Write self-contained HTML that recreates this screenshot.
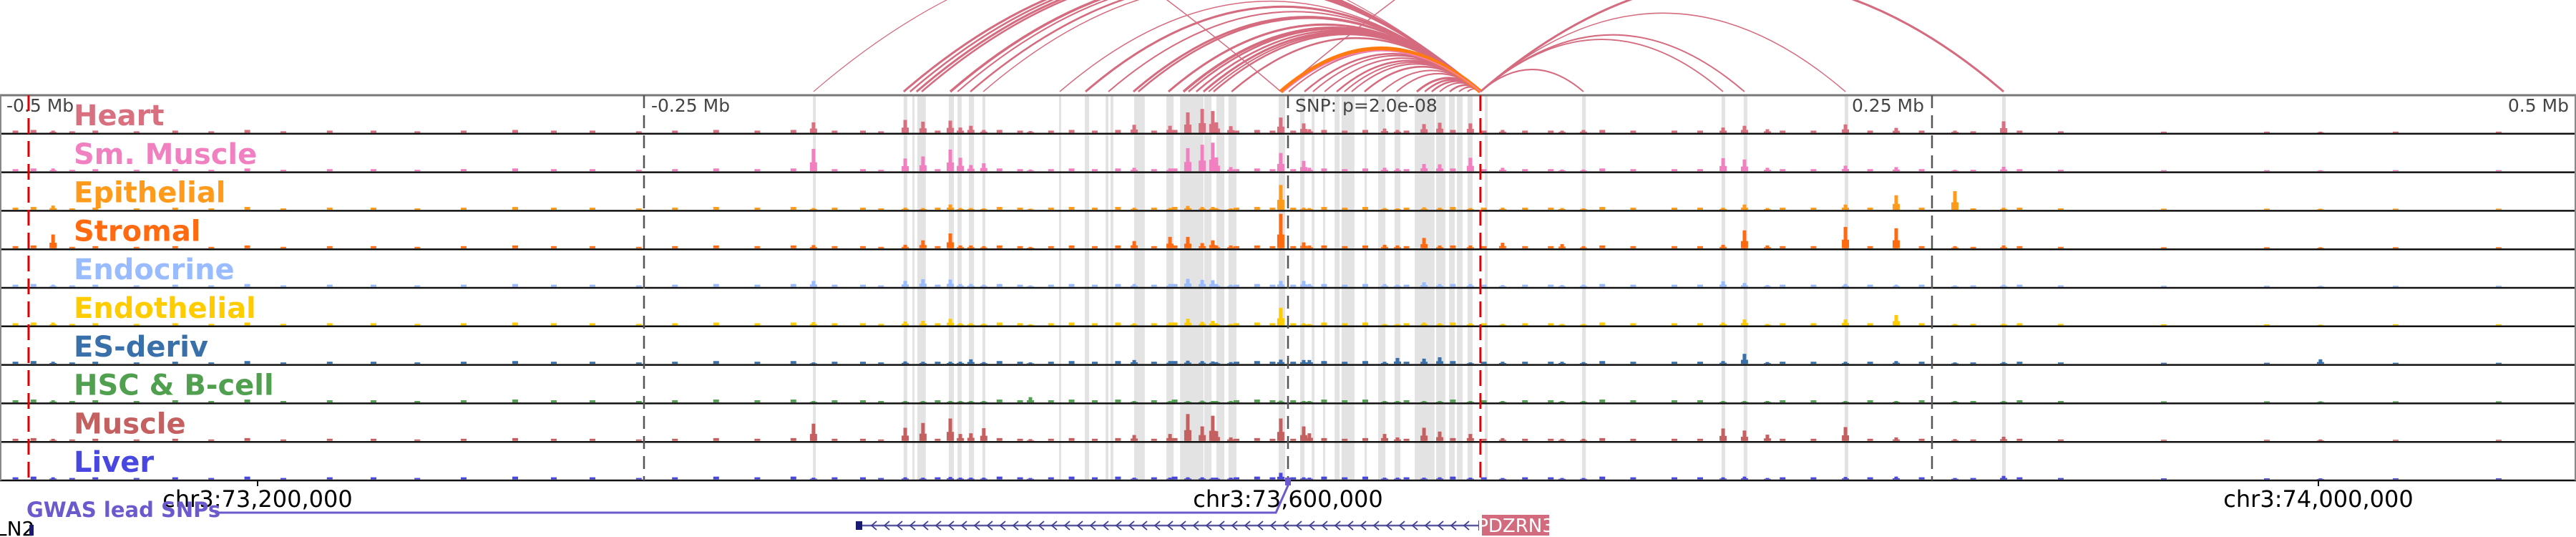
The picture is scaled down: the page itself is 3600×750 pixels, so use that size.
<!DOCTYPE html>
<html><head><meta charset="utf-8"><style>
html,body{margin:0;padding:0;background:#fff;}
svg{display:block;font-family:"DejaVu Sans","Liberation Sans",sans-serif;}
</style></head><body>
<svg id="chart" xmlns="http://www.w3.org/2000/svg" width="3600" height="750" viewBox="0 0 3600 750">
<defs><clipPath id="arcclip"><rect x="0" y="0" width="3600" height="131"/></clipPath></defs>
<g id="bands"></g>
<g id="arcs" clip-path="url(#arcclip)"></g>
<g id="tracks"></g>
<g id="overlay"></g>
<g id="bottom"></g>
</svg>
<script>
// ---- data (genomic offsets in kb relative to SNP) ----
const bandStart = [-184.4,-149.2,-145.8,-143.9,-131.7,-128.3,-123.9,-118.6,-88.9,-78.9,-70.8,-68.9,-59.7,-58.3,-47.2,-41.9,-32.5,-30.8,-27.8,-23.1,-3.6,4.7,9.2,13.6,18.1,20.8,29.7,35,41.4,49.2,57.5,62.5,65.6,69.7,76.4,114.2,168.3,176.9,216.1,277.2];
const bandEnd   = [-183.3,-147.8,-145,-140.6,-129.7,-126.7,-121.9,-117.5,-88.1,-77.2,-69.7,-67.8,-58.1,-55.6,-44.4,-32.8,-30.8,-29.7,-24.7,-20,-1.1,6.4,10.3,14.4,20,25.8,30.6,37.8,43.6,56.9,61.1,64.7,67.8,71.7,77.5,115.6,169.7,178.3,217.5,278.6];

const peakPos = [-479.4,-184.2,-148.6,-141.7,-131.1,-127.2,-123.1,-118.1,-100,-59.7,-45.8,-38.9,-33.3,-29.2,-27.8,-22.2,-2.8,6.1,8.3,37.5,42.5,52.8,58.9,70.8,83.3,106.4,114.7,168.9,177.2,186.1,216.4,236.1,258.9,277.8,400.8];
const heart      = [6,30,37,32,35,15,20,8,5,23,20,59,69,63,30,19,44,27,10,12,8,25,29,27,8,6,8,15,20,10,24,14,6,33,3];
const smMuscle   = [8,65,37,43,63,39,18,23,5,10,8,67,77,83,40,12,53,30,10,10,8,21,20,39,10,5,5,38,34,10,16,12,4,13,3];
const epithelial = [12,5,6,5,15,5,5,4,3,6,5,11,8,8,5,4,72,6,5,5,4,7,6,5,6,5,4,6,15,5,15,42,54,6,3];
const stromal    = [40,9,10,23,43,8,8,6,4,21,33,33,15,23,8,8,100,17,8,10,8,30,8,8,16,12,6,10,52,8,62,58,6,8,3];
const endocrine  = [6,17,17,22,21,8,8,6,4,8,8,23,20,19,8,6,17,17,8,8,6,13,8,8,5,5,6,16,11,5,8,6,4,6,3];
const endothelial= [8,9,11,13,19,6,6,5,3,6,8,19,10,13,6,4,51,6,4,4,4,8,6,6,4,4,4,8,17,4,17,30,4,5,2];
const esDeriv    = [6,4,7,6,6,6,13,5,4,11,8,9,8,7,5,5,12,11,11,6,17,15,19,4,6,6,5,8,29,5,6,8,4,5,13];
const hscBcell   = [6,4,4,4,4,4,4,4,15,4,4,4,5,4,4,4,5,4,4,4,4,4,4,4,4,4,4,4,4,4,4,4,4,4,3];
const muscle     = [6,50,38,52,65,20,22,37,5,17,20,78,42,73,28,10,65,42,22,20,10,38,27,20,8,6,6,36,30,18,40,10,5,12,4];
const liver      = [6,5,6,5,7,5,5,5,4,5,5,6,6,5,5,5,19,6,5,5,5,5,6,5,4,4,4,6,8,4,7,8,4,10,3];

const bgPos = [-494,-487,-472,-463,-447,-432,-418,-404,-390,-372,-355,-338,-320,-300,-285,-270,-252,-238,-222,-206,-192,-176,-165,-158,-136,-112,-104,-92,-84,-75,-66,-52,-44,-20,-12,-6,2,14,22,30,46,64,76,92,102,122,134,150,160,192,204,226,246,266,284,300,340,380,430,470];
const bgH   = [6,8,4,6,4,6,4,8,4,6,6,4,6,8,6,6,4,6,8,6,8,6,6,4,6,8,6,6,8,6,8,6,8,6,8,6,6,8,6,8,6,8,6,6,6,8,6,6,6,6,6,6,6,4,6,4,3,3,3,3];

const trackNames  = ["Heart","Sm. Muscle","Epithelial","Stromal","Endocrine","Endothelial","ES-deriv","HSC & B-cell","Muscle","Liver"];
const trackColors = ["#d8707f","#f080c0","#ff9a1a","#ff6a10","#99bbff","#ffcc00","#3a70aa","#50a050","#c56060","#4848e0"];
const trackData   = [heart,smMuscle,epithelial,stromal,endocrine,endothelial,esDeriv,hscBcell,muscle,liver];

const arcStart = [-184.2,-149.2,-146.7,-144.2,-142.2,-131.1,-128.3,-123.3,-118.3,-88.6,-78.6,-69.7,-60,-58.1,-46.4,-40.6,-38.6,-35.6,-32.8,-30.8,-28.9,-21.9,0.3,6.4,9.7,14.2,18.9,21.9,24.7,29.7,36.4,42.2,50,53.1,55.8,58.9,62.8,66.4,69.7,74.7,74.7,74.7,74.7,74.7,-2.8,-2.8];
const arcEnd   = [74.7,74.7,74.7,74.7,74.7,74.7,74.7,74.7,74.7,74.7,74.7,74.7,74.7,74.7,74.7,74.7,74.7,74.7,74.7,74.7,74.7,74.7,74.7,74.7,74.7,74.7,74.7,74.7,74.7,74.7,74.7,74.7,74.7,74.7,74.7,74.7,74.7,74.7,74.7,114.7,168.9,177.2,216.4,277.8,-700,700];
const arcWidth = [1.2,3,2.5,3,2.5,3.5,2,2.5,1.5,1.5,3,2,3,2.5,3,3.5,2.5,2.5,3,2,2.5,2.5,2,2.5,2,2,2.5,2,2,2.5,2,2,3,2.5,2.5,2,2.5,2,2,2,1.8,2,1.5,3,1.5,1.5];

const tickKb = [-500,-250,0,250,500];
const tickText = ["-0.5 Mb","-0.25 Mb","SNP: p=2.0e-08","0.25 Mb","0.5 Mb"];
const coordKb = [-400,0,400];
const coordText = ["chr3:73,200,000","chr3:73,600,000","chr3:74,000,000"];

// ---- scales ----
const X0 = 1800, PXKB = 3.6;
function xs(kb){ return X0 + kb*PXKB; }
const TOP = 133, TH = 53.8;
function ys(v){ return v/100*48; }
const ARCBASE = 128;

const NS = "http://www.w3.org/2000/svg";
function mk(tag, attrs, parent){ const e=document.createElementNS(NS,tag); for(const k in attrs) e.setAttribute(k,attrs[k]); parent.appendChild(e); return e; }

// bands
const gB = document.getElementById('bands');
for(let i=0;i<bandStart.length;i++){
  const r = mk('rect',{x:xs(bandStart[i]),y:TOP,width:Math.max(3,xs(bandEnd[i])-xs(bandStart[i])),height:TH*10,fill:'#e3e3e3'},gB);
  
  
}

// arcs
const gA = document.getElementById('arcs');
for(let i=0;i<arcStart.length;i++){
  const x1=xs(arcStart[i]), x2=xs(arcEnd[i]); const s=Math.abs(x2-x1);
  const cx=(x1+x2)/2, cy=ARCBASE-0.43*s;
  const p = mk('path',{d:`M${x1},${ARCBASE} Q${cx},${cy} ${x2},${ARCBASE}`,fill:'none',stroke:'#d56b7f','stroke-width':arcWidth[i]},gA);
  
  
}
{ // highlighted arc (SNP to PDZRN3)
  const x1=xs(-2.8), x2=xs(74.7), s=x2-x1;
  const o = mk('path',{d:`M${x1},${ARCBASE} Q${(x1+x2)/2},${ARCBASE-0.43*s} ${x2},${ARCBASE}`,fill:'none',stroke:'#ff7a10','stroke-width':6},gA);
  
  
  const p2 = mk('path',{d:`M${x1+4},${ARCBASE} Q${(x1+x2)/2},${ARCBASE-0.43*s+6} ${x2},${ARCBASE}`,fill:'none',stroke:'#f080c0','stroke-width':1.5},gA);
  
  
}

// tracks
const gT = document.getElementById('tracks');
for(let t=0;t<10;t++){
  const top = TOP + t*TH, bot = top+TH-1.5;
  const g = mk('g',{},gT);
  
  
  for(let i=0;i<bgPos.length;i++){
    const h=ys(bgH[i]);
    const b = mk('rect',{x:xs(bgPos[i])-4,y:bot-h,width:8,height:h,fill:trackColors[t]},g);
    
    
  }
  const vals = trackData[t];
  for(let i=0;i<peakPos.length;i++){
    const h=ys(vals[i]); const x=xs(peakPos[i]);
    const sh = mk('rect',{x:x-5,y:bot-h*0.4,width:10,height:h*0.4,fill:trackColors[t]},g);
    
    
    const b = mk('rect',{x:x-2.5,y:bot-h,width:5,height:h,fill:trackColors[t]},g);
    
    
  }
  const sep = mk('line',{x1:0,x2:3600,y1:top+TH,y2:top+TH,stroke:'#111','stroke-width':2.5},g);
  
  
  const lb = mk('text',{x:103,y:top+42,'font-size':40,'font-weight':'bold',fill:trackColors[t]},g);
  lb.textContent = trackNames[t];
  
  
}

// overlay
const gO = document.getElementById('overlay');
{
  const tl = mk('line',{x1:0,x2:3600,y1:TOP,y2:TOP,stroke:'#777','stroke-width':3},gO);
   
  const lb = mk('line',{x1:1,x2:1,y1:TOP,y2:TOP+TH*10,stroke:'#888','stroke-width':2},gO);
   
  const rb = mk('line',{x1:3599,x2:3599,y1:TOP,y2:TOP+TH*10,stroke:'#888','stroke-width':2},gO);
   
}
for(let i=0;i<tickKb.length;i++){
  const x = xs(tickKb[i]);
  if(i>0 && i<tickKb.length-1){
    const l = mk('line',{x1:x,x2:x,y1:TOP,y2:TOP+TH*10,stroke:'#555','stroke-width':2.5,'stroke-dasharray':'18 10'},gO);
    
    
  }
  let anchor='start', tx=x+10;
  if(i>=3){ anchor='end'; tx=x-11; }
  if(i===tickKb.length-1){ tx=3590; }
  if(i===0) tx=9;
  const tt = mk('text',{x:tx,y:156,'font-size':25,fill:'#444','text-anchor':anchor},gO);
  tt.textContent = tickText[i];
  
  
}
const redKb = [-488.9,74.7];
for(const k of redKb){
  const l = mk('line',{x1:xs(k),x2:xs(k),y1:TOP,y2:TOP+TH*10,stroke:'#e00000','stroke-width':3,'stroke-dasharray':'22 10'},gO);
  
  
}

// bottom
const gBo = document.getElementById('bottom');
for(let i=0;i<coordKb.length;i++){
  const x=xs(coordKb[i]);
  const tk = mk('line',{x1:x,x2:x,y1:671,y2:679,stroke:'#111','stroke-width':2},gBo);
  
  
  const t = mk('text',{x:x,y:708,'font-size':32,fill:'#000','text-anchor':'middle'},gBo);
  t.textContent = coordText[i];
  
  
}
{
  const gw = mk('polyline',{points:`300,716 ${xs(-4.7)},716 ${xs(0)},678`,fill:'none',stroke:'#6a5acd','stroke-width':3},gBo);
   
  const gr = mk('rect',{x:xs(0)-4,y:667,width:8,height:11,fill:'#6a5acd'},gBo);
   
  const gt = mk('text',{x:37,y:722,'font-size':29,'font-weight':'bold',fill:'#6a5acd'},gBo);
  gt.textContent='GWAS lead SNPs';
   
  const ln = mk('text',{x:-6,y:748,'font-size':28,fill:'#000'},gBo);
  ln.textContent='LN2';
   
  const lr = mk('rect',{x:41,y:733,width:6,height:15,fill:'#1a1a70'},gBo);
   
  const gl = mk('line',{x1:1198,x2:2069,y1:734,y2:734,stroke:'#5a5aa0','stroke-width':2.5},gBo);
   
  const ge = mk('rect',{x:1196,y:728,width:9,height:12,fill:'#1a1a70'},gBo);
   
  const ge2 = mk('rect',{x:2066,y:727,width:3,height:14,fill:'#1a1a70'},gBo);
   
  let d='';
  for(let x=1218;x<2060;x+=18){ d+=`M${x+7},728 L${x},734 L${x+7},740 `; }
  const ch = mk('path',{d:d,fill:'none',stroke:'#3a3a90','stroke-width':1.8},gBo);
   
  const bx = mk('rect',{x:2071,y:719,width:94,height:29,fill:'#d36b7f'},gBo);
   
  const bt = mk('text',{x:2118,y:743,'font-size':26,fill:'#fff','text-anchor':'middle'},gBo);
  bt.textContent='PDZRN3';
   
}
</script>
</body></html>
